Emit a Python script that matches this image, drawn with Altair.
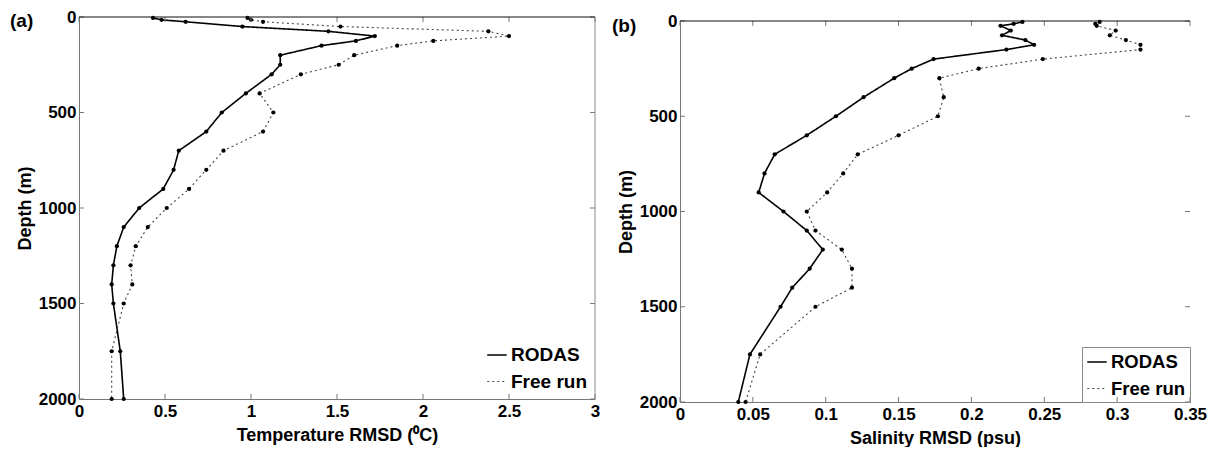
import altair as alt
import pandas as pd

# ---- data ----
depth = [5, 15, 25, 50, 75, 100, 125, 150, 200, 250, 300, 400, 500, 600, 700,
         800, 900, 1000, 1100, 1200, 1300, 1400, 1500, 1750, 2000]
series = ["RODAS", "Free run"]

temp_rodas = [0.43, 0.48, 0.62, 0.95, 1.45, 1.72, 1.61, 1.41, 1.17, 1.17, 1.12, 0.97, 0.83,
              0.74, 0.58, 0.55, 0.49, 0.35, 0.26, 0.22, 0.20, 0.19, 0.20, 0.24, 0.26]
temp_free = [0.98, 1.00, 1.07, 1.52, 2.38, 2.50, 2.06, 1.85, 1.60, 1.51, 1.29, 1.05, 1.13,
             1.07, 0.84, 0.74, 0.64, 0.51, 0.40, 0.33, 0.30, 0.31, 0.26, 0.19, 0.19]

sal_rodas = [0.235, 0.229, 0.220, 0.227, 0.221, 0.237, 0.243, 0.224, 0.174, 0.159, 0.147, 0.126,
             0.107, 0.087, 0.065, 0.058, 0.054, 0.071, 0.087, 0.098, 0.089, 0.077, 0.069, 0.048, 0.040]
sal_free = [0.288, 0.285, 0.286, 0.299, 0.295, 0.306, 0.316, 0.316, 0.249, 0.205, 0.178, 0.181,
            0.177, 0.150, 0.122, 0.112, 0.101, 0.087, 0.093, 0.111, 0.118, 0.118, 0.093, 0.055, 0.045]

temp_ticks = [0, 0.5, 1, 1.5, 2, 2.5, 3]
sal_ticks = [0, 0.05, 0.1, 0.15, 0.2, 0.25, 0.3, 0.35]
depth_ticks = [0, 500, 1000, 1500, 2000]

FONT = "Liberation Sans"


def long_df(a, b):
    rows = []
    for name, vals in zip(series, [a, b]):
        for d, v in zip(depth, vals):
            rows.append({"depth": d, "value": v, "series": name})
    return pd.DataFrame(rows)


def panel(df, xdomain, xticks, xtitle, W, H, top, label, label_dx, label_dy, leg, right_spine):
    x_enc = alt.X("value:Q",
                  scale=alt.Scale(domain=xdomain, nice=False, zero=False),
                  axis=alt.Axis(values=xticks, title=xtitle, ticks=False, grid=False,
                                format="~g", domainColor="#777", labelPadding=4,
                                titlePadding=7, labelFlush=False))
    y_enc = alt.Y("depth:Q",
                  scale=alt.Scale(domain=[0, 2000], range=[top, H], nice=False, zero=False),
                  axis=alt.Axis(values=depth_ticks, title="Depth (m)", ticks=False, grid=False,
                                format="d", domainColor="#777", labelPadding=3,
                                titlePadding=4))
    sdom = alt.Scale(domain=series, range=["black", "#444"])
    dash = alt.Scale(domain=series, range=[[1, 0], [2, 3]])
    wid = alt.Scale(domain=series, range=[1.6, 1.1])

    lines = alt.Chart(df).mark_line().encode(
        x=x_enc, y=y_enc,
        order=alt.Order("depth:Q"),
        color=alt.Color("series:N", scale=sdom, legend=leg),
        strokeDash=alt.StrokeDash("series:N", scale=dash, legend=leg),
        strokeWidth=alt.StrokeWidth("series:N", scale=wid, legend=leg),
    )
    pts = alt.Chart(df).mark_circle(size=18, opacity=1, color="black").encode(
        x=x_enc, y=y_enc)

    ydf = pd.DataFrame({"depth": depth_ticks})
    xdf = pd.DataFrame({"value": xticks})
    left_t = alt.Chart(ydf).mark_rule(color="#777").encode(
        y=y_enc, x=alt.value(0), x2=alt.value(5))
    right_t = alt.Chart(ydf).mark_rule(color="#777").encode(
        y=y_enc, x=alt.value(W - 5), x2=alt.value(W))
    bot_t = alt.Chart(xdf).mark_rule(color="#777").encode(
        x=x_enc, y=alt.value(H), y2=alt.value(H - 5))
    top_t = alt.Chart(xdf).mark_rule(color="#777").encode(
        x=x_enc, y=alt.value(top), y2=alt.value(top + 5))

    one = pd.DataFrame({"t": [label]})
    top_sp = alt.Chart(one).mark_rule(color="#111", strokeWidth=1.2).encode(
        x=alt.value(0), x2=alt.value(W), y=alt.value(top))
    layers = [lines, pts, left_t, right_t, bot_t, top_t, top_sp]
    if right_spine:
        layers.append(alt.Chart(one).mark_rule(color="#888").encode(
            x=alt.value(W), y=alt.value(top), y2=alt.value(H)))
    txt = alt.Chart(one).mark_text(align="left", baseline="middle", fontSize=19,
                                   fontWeight="bold", font=FONT, color="black").encode(
        text="t:N", x=alt.value(label_dx), y=alt.value(top + label_dy))
    layers.append(txt)
    return alt.layer(*layers).properties(width=W, height=H)


leg_a = alt.Legend(orient="bottom-right", title=None, labelFont=FONT, labelFontSize=19,
                   labelFontWeight="bold", labelColor="black", symbolType="stroke",
                   symbolSize=380, rowPadding=6, padding=4, offset=3, labelOffset=3)
leg_b = alt.Legend(orient="bottom-right", title=None, labelFont=FONT, labelFontSize=18.5,
                   labelFontWeight="bold", labelColor="black", symbolType="stroke",
                   symbolSize=380, rowPadding=6, padding=4, offset=0, labelOffset=3,
                   strokeColor="#888")

pa = panel(long_df(temp_rodas, temp_free), [0, 3], temp_ticks,
           "Temperature RMSD (\u2070C)", 516, 382, 0, "(a)", -69, 4, leg_a, True)
pb = panel(long_df(sal_rodas, sal_free), [0, 0.35], sal_ticks,
           "Salinity RMSD (psu)", 510, 385, 4, "(b)", -68, 5, leg_b, False)

chart = alt.hconcat(pa, pb, spacing=12).resolve_scale(
    color="independent", strokeDash="independent", strokeWidth="independent"
).configure(
    padding={"left": 2, "top": 0, "right": 0, "bottom": 0},
    background="white",
).configure_view(strokeWidth=0).configure_axis(
    labelFont=FONT, labelFontSize=17, labelFontWeight="bold", labelColor="black",
    titleFont=FONT, titleFontSize=18, titleFontWeight="bold", titleColor="black",
)

chart.save("out.html", embed_options={"renderer": "svg", "actions": False})
